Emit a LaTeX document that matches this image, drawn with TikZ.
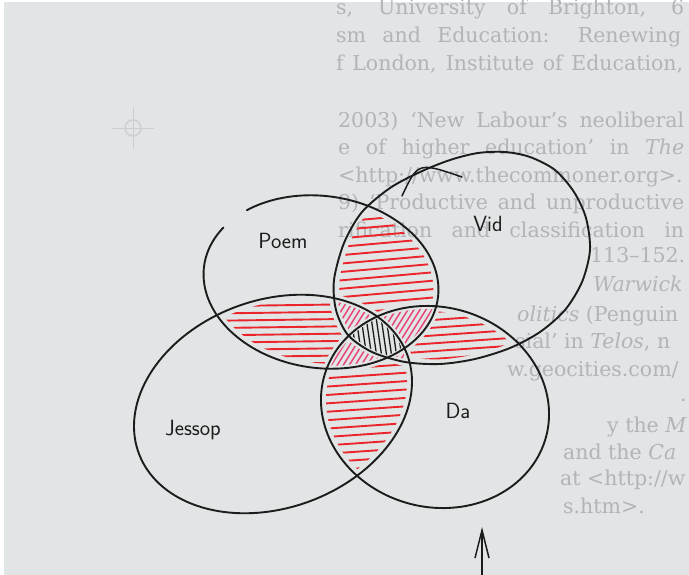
\documentclass[tikz,border=0pt]{standalone}
\usepackage{fontspec}
\newfontfamily\pagefont{DejaVu Serif}
\usetikzlibrary{arrows.meta}
\definecolor{paper}{RGB}{226,229,229}
\definecolor{ink}{RGB}{28,28,28}
\definecolor{hred}{RGB}{234,38,44}
\definecolor{hpink}{RGB}{230,72,122}
\definecolor{ptext}{RGB}{178,181,183}
\definecolor{regmark}{RGB}{204,207,207}
% ellipse as a plot: centre (#1,#2), radii #3,#4, visual ccw rotation #5, domain #6 (image coords, y down)
\newcommand\ELd[6]{plot[domain=#6,samples=150] ({#1+(#3)*cos(\x)*cos(#5)-(#4)*sin(\x)*sin(#5)},{#2-(#3)*cos(\x)*sin(#5)-(#4)*sin(\x)*cos(#5)})}
\newcommand\EP[2]{\ELd{321}{282}{118+(#1)}{86+(#1)}{-8}{#2}}
\newcommand\EJ[2]{\ELd{273}{404}{143+(#1)}{104+(#1)}{20}{#2}}
\newcommand\ED[2]{\ELd{435}{407}{115+(#1)}{100+(#1)}{-15}{#2}}
% the Vid loop, hand-drawn shape, forward (visually anticlockwise) and reversed
\newcommand\VidF{plot[smooth cycle,tension=0.5] coordinates {(590,250) (586,218) (574,192) (555,170) (530,157) (505,152) (478,153) (450,160) (420,172) (390,188) (362,212) (344,243) (334,280) (336,310) (348,335) (372,352) (405,362) (440,364) (475,359) (510,348) (540,332) (565,310) (582,282)}}
\newcommand\VidR{plot[smooth cycle,tension=0.5] coordinates {(582,282) (565,310) (540,332) (510,348) (475,359) (440,364) (405,362) (372,352) (348,335) (336,310) (334,280) (344,243) (362,212) (390,188) (420,172) (450,160) (478,153) (505,152) (530,157) (555,170) (574,192) (586,218) (590,250)}}
\tikzset{
  vidscale/.style={shift={(461,258)},scale=#1,shift={(-461,-258)}},
  outline/.style={draw=ink,line width=1.9pt,line cap=round,line join=round},
  hr/.style={draw=hred,line width=1.9pt,line cap=round},
  hp/.style={draw=hpink,line width=1.5pt,line cap=round},
  hb/.style={draw=ink,line width=1.3pt,line cap=round},
  pagetext/.style={anchor=base west,inner sep=0pt,text=ptext,font=\pagefont\fontsize{20.5}{24}\selectfont},
  hand/.style={inner sep=0pt,text=ink,font=\sffamily\fontsize{22}{26}\selectfont},
}
\begin{document}
\begin{tikzpicture}[x=1pt,y=-1pt]
\useasboundingbox (0,0) rectangle (689,575);
\clip (0,0) rectangle (689,575);
\fill[white] (0,0) rectangle (689,575);
\fill[paper] (4,2) rectangle (689,575);
% faint registration mark
\draw[regmark,line width=1.4pt] (133,128) circle (8);
\draw[regmark,line width=0.8pt] (112,128) -- (154,128) (133,107) -- (133,149);
% printed page text (shows faintly behind the sketch)
\node[pagetext] (t1) at (336,15) {\makebox[348pt][s]{s, University of Brighton, 6}};
\node[pagetext] (t2) at (336,43) {\makebox[345pt][s]{sm and Education: Renewing}};
\node[pagetext] (t3) at (336,71) {\makebox[347pt][s]{f London, Institute of Education,}};
\node[pagetext] (t4) at (338,128) {\makebox[346pt][s]{2003) ‘New Labour’s neoliberal}};
\node[pagetext] (t5) at (338,155) {\makebox[346pt][s]{e of higher education’ in \textit{The}}};
\node[pagetext] (t6) at (338,183) {<http://www.thecommoner.org>.};
\node[pagetext] (t7) at (338,210) {\makebox[346pt][s]{9) ‘Productive and unproductive}};
\node[pagetext] (t8) at (338,237) {\makebox[346pt][s]{rification and classification in}};
\node[pagetext] (t9) at (590,262) {113–152.};
\node[pagetext] (t10) at (593,291) {\textit{Warwick}};
\node[pagetext] (t11) at (517,321) {\textit{olitics} (Penguin};
\node[pagetext] (t12) at (515,348) {sial’ in \textit{Telos}, n};
\node[pagetext] (t13) at (507,376) {w.geocities.com/};
\node[pagetext] (t14) at (680,401) {.};
\node[pagetext] (t15) at (607,432) {y the \textit{M}};
\node[pagetext] (t16) at (563,459) {and the \textit{Ca}};
\node[pagetext] (t17) at (560,485) {at <http://w};
\node[pagetext] (t18) at (563,513) {s.htm>.};
% ---- red hatching, pair regions ----
\begin{scope}
  \clip \EP{-5}{0:360} -- cycle; \clip[vidscale=0.955] \VidF;
  \clip (-20,-20) rectangle (720,620) \EJ{4}{360:0} -- cycle;
  \clip (-20,-20) rectangle (720,620) \ED{4}{360:0} -- cycle;
  \foreach \k in {0,...,17} \draw[hr] (322,{198+8.4*\k}) -- (448,{187+8.4*\k});
\end{scope}
\begin{scope}
  \clip \EP{-5}{0:360} -- cycle; \clip \EJ{-5}{0:360} -- cycle;
  \clip[vidscale=1.036] (-40,-40) rectangle (740,640) \VidR;
  \clip (-20,-20) rectangle (720,620) \ED{4}{360:0} -- cycle;
  \foreach \k in {0,...,10} \draw[hr] (205,{299+7.3*\k}) -- (350,{297+7.3*\k});
\end{scope}
\begin{scope}
  \clip[vidscale=0.955] \VidF; \clip \ED{-5}{0:360} -- cycle;
  \clip (-20,-20) rectangle (720,620) \EP{4}{360:0} -- cycle;
  \clip (-20,-20) rectangle (720,620) \EJ{4}{360:0} -- cycle;
  \foreach \k in {0,...,9} \draw[hr] (380,{308+7.8*\k}) -- (525,{298+7.8*\k});
\end{scope}
\begin{scope}
  \clip \EJ{-5}{0:360} -- cycle; \clip \ED{-5}{0:360} -- cycle;
  \clip (-20,-20) rectangle (720,620) \EP{4}{360:0} -- cycle;
  \clip[vidscale=1.036] (-40,-40) rectangle (740,640) \VidR;
  \foreach \k in {0,...,16} \draw[hr] (312,{354+8.4*\k}) -- (428,{346+8.4*\k});
\end{scope}
% ---- pink hatching, triple regions ----
\begin{scope}
  \clip \EP{-3}{0:360} -- cycle; \clip[vidscale=0.973] \VidF; \clip \EJ{-3}{0:360} -- cycle;
  \clip (-20,-20) rectangle (720,620) \ED{3}{360:0} -- cycle;
  \foreach \k in {0,...,30} \draw[hp] ({280+6*\k},380) -- ({330+6*\k},300);
\end{scope}
\begin{scope}
  \clip \EP{-3}{0:360} -- cycle; \clip[vidscale=0.973] \VidF; \clip \ED{-3}{0:360} -- cycle;
  \clip (-20,-20) rectangle (720,620) \EJ{3}{360:0} -- cycle;
  \foreach \k in {0,...,30} \draw[hp] ({280+6*\k},380) -- ({330+6*\k},300);
\end{scope}
\begin{scope}
  \clip \EP{-3}{0:360} -- cycle; \clip \EJ{-3}{0:360} -- cycle; \clip \ED{-3}{0:360} -- cycle;
  \clip[vidscale=1.027] (-40,-40) rectangle (740,640) \VidR;
  \foreach \k in {0,...,30} \draw[hp] ({280+6*\k},380) -- ({330+6*\k},300);
\end{scope}
\begin{scope}
  \clip[vidscale=0.973] \VidF; \clip \EJ{-3}{0:360} -- cycle; \clip \ED{-3}{0:360} -- cycle;
  \clip (-20,-20) rectangle (720,620) \EP{3}{360:0} -- cycle;
  \foreach \k in {0,...,30} \draw[hp] ({280+6*\k},380) -- ({330+6*\k},300);
\end{scope}
% ---- black hatching, centre ----
\begin{scope}
  \clip \EP{-2}{0:360} -- cycle; \clip[vidscale=0.982] \VidF;
  \clip \EJ{-2}{0:360} -- cycle; \clip \ED{-2}{0:360} -- cycle;
  \foreach \k in {0,...,16} \draw[hb] ({335+5*\k},310) -- ({343+5*\k},365);
\end{scope}
% ---- outlines ----
\draw[outline] \EJ{0}{0:360} -- cycle;
\draw[outline] \ED{0}{0:360} -- cycle;
\draw[outline] \VidF;
\draw[outline] \EP{0}{152:495};
\coordinate (vs) at (402,196); \coordinate (ve) at (462,177);
\draw[outline,line width=1.5pt] (vs) .. controls (418,162) .. (ve);
% labels
\node[hand] (poem) at (283,241) {Poem};
\node[hand] (vid) at (488,224) {Vid};
\node[hand] (da) at (458,411) {Da};
\node[hand] (jessop) at (193,430) {Jessop};
% arrow
\coordinate (abase) at (482,580);
\coordinate (atip) at (482,527);
\draw[outline,line width=1.6pt,-{Straight Barb[length=28pt,width=14pt,line width=1.5pt]}] (abase) -- (atip);
\end{tikzpicture}
\end{document}
